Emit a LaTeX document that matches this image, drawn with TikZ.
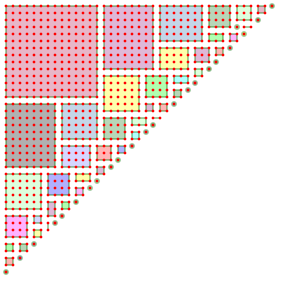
\documentclass[tikz,border=0pt]{standalone}
\usepackage{tikz}
\usepackage{xcolor}

\definecolor{cpink}{RGB}{232,182,200}
\definecolor{cthistle}{RGB}{222,184,216}
\definecolor{cblue}{RGB}{196,214,232}
\definecolor{cyellow}{RGB}{255,255,172}
\definecolor{cseagreen}{RGB}{184,214,184}
\definecolor{choneydew}{RGB}{222,255,222}
\definecolor{cpale}{RGB}{176,255,176}
\definecolor{cviolet}{RGB}{255,178,255}
\definecolor{csalmon}{RGB}{255,182,182}
\definecolor{ccyan}{RGB}{176,255,255}
\definecolor{cgrey}{RGB}{176,176,176}
\definecolor{clavender}{RGB}{214,214,255}
\definecolor{cperi}{RGB}{176,176,255}

\begin{document}
\begin{tikzpicture}[x=0.25cm, y=-0.25cm,
    cell/.style={draw=green!45!black, draw opacity=0.35, line width=1.5pt},
    latdot/.style={fill=red}]

% Size of the staircase (points with i+j <= \n)
\def\n{38}
\useasboundingbox (-0.857,-0.857) rectangle (40.143,40.143);

% Blocks of the tiling: corner i/j to corner i/j, colour
\foreach \ia/\ja/\ib/\jb/\col in {
    0/0/13/13/cpink, 14/0/21/9/cthistle, 22/0/28/5/cblue, 22/6/26/9/cyellow,
    27/6/29/8/cthistle, 27/9/28/10/choneydew, 29/0/32/3/cseagreen,
    33/0/35/2/choneydew, 36/0/37/1/cpink, 29/4/31/5/cpale, 32/4/33/5/cviolet,
    30/6/31/7/csalmon,
    14/10/19/15/cyellow, 20/10/23/13/cpale, 24/10/26/11/ccyan,
    24/12/25/13/cseagreen, 20/14/21/15/cthistle, 22/14/23/15/csalmon,
    14/16/17/19/cseagreen, 18/16/20/17/choneydew, 18/18/19/19/ccyan,
    0/14/7/23/cgrey, 8/14/13/19/cblue, 8/20/12/23/clavender,
    13/20/15/22/csalmon, 16/20/17/21/cperi, 13/23/14/24/cthistle,
    0/24/5/29/choneydew, 6/24/9/27/cperi, 10/24/12/25/cyellow,
    10/26/11/27/cviolet, 6/28/7/30/cthistle, 8/28/9/29/cpale,
    0/30/3/33/cviolet, 4/30/5/31/clavender, 4/32/5/33/cyellow,
    0/34/1/35/cpale, 2/34/3/35/cseagreen, 0/36/1/37/csalmon} {
    \filldraw[cell, fill=\col] (\ia,\ja) rectangle (\ib,\jb);
}

% Blocks one point wide
\draw[cell] (34,3) -- (35,3);
\draw[cell] (21,16) -- (22,16);
\draw[cell] (6,31) -- (6,32);

% Single points
\foreach \i/\j/\col in {
    38/0/cseagreen, 36/2/cseagreen, 33/3/choneydew, 34/4/cyellow,
    32/6/cblue, 30/8/cseagreen, 29/9/cseagreen, 27/11/cthistle,
    26/12/cthistle, 24/14/cblue, 21/17/cseagreen, 20/18/cblue,
    18/20/cthistle, 16/22/cpale, 15/23/cseagreen, 13/25/choneydew,
    12/26/choneydew, 10/28/cseagreen, 8/30/cpink, 7/31/cpink,
    4/34/cblue, 2/36/cperi, 0/38/cseagreen} {
    \filldraw[cell, fill=\col] (\i,\j) circle (0.32);
}

% Lattice points
\foreach \i in {0,...,\n} {
    \pgfmathtruncatemacro\jmax{\n-\i}
    \foreach \j in {0,...,\jmax}
        \fill[latdot] (\i,\j) circle (1.55pt);
}

\end{tikzpicture}
\end{document}
